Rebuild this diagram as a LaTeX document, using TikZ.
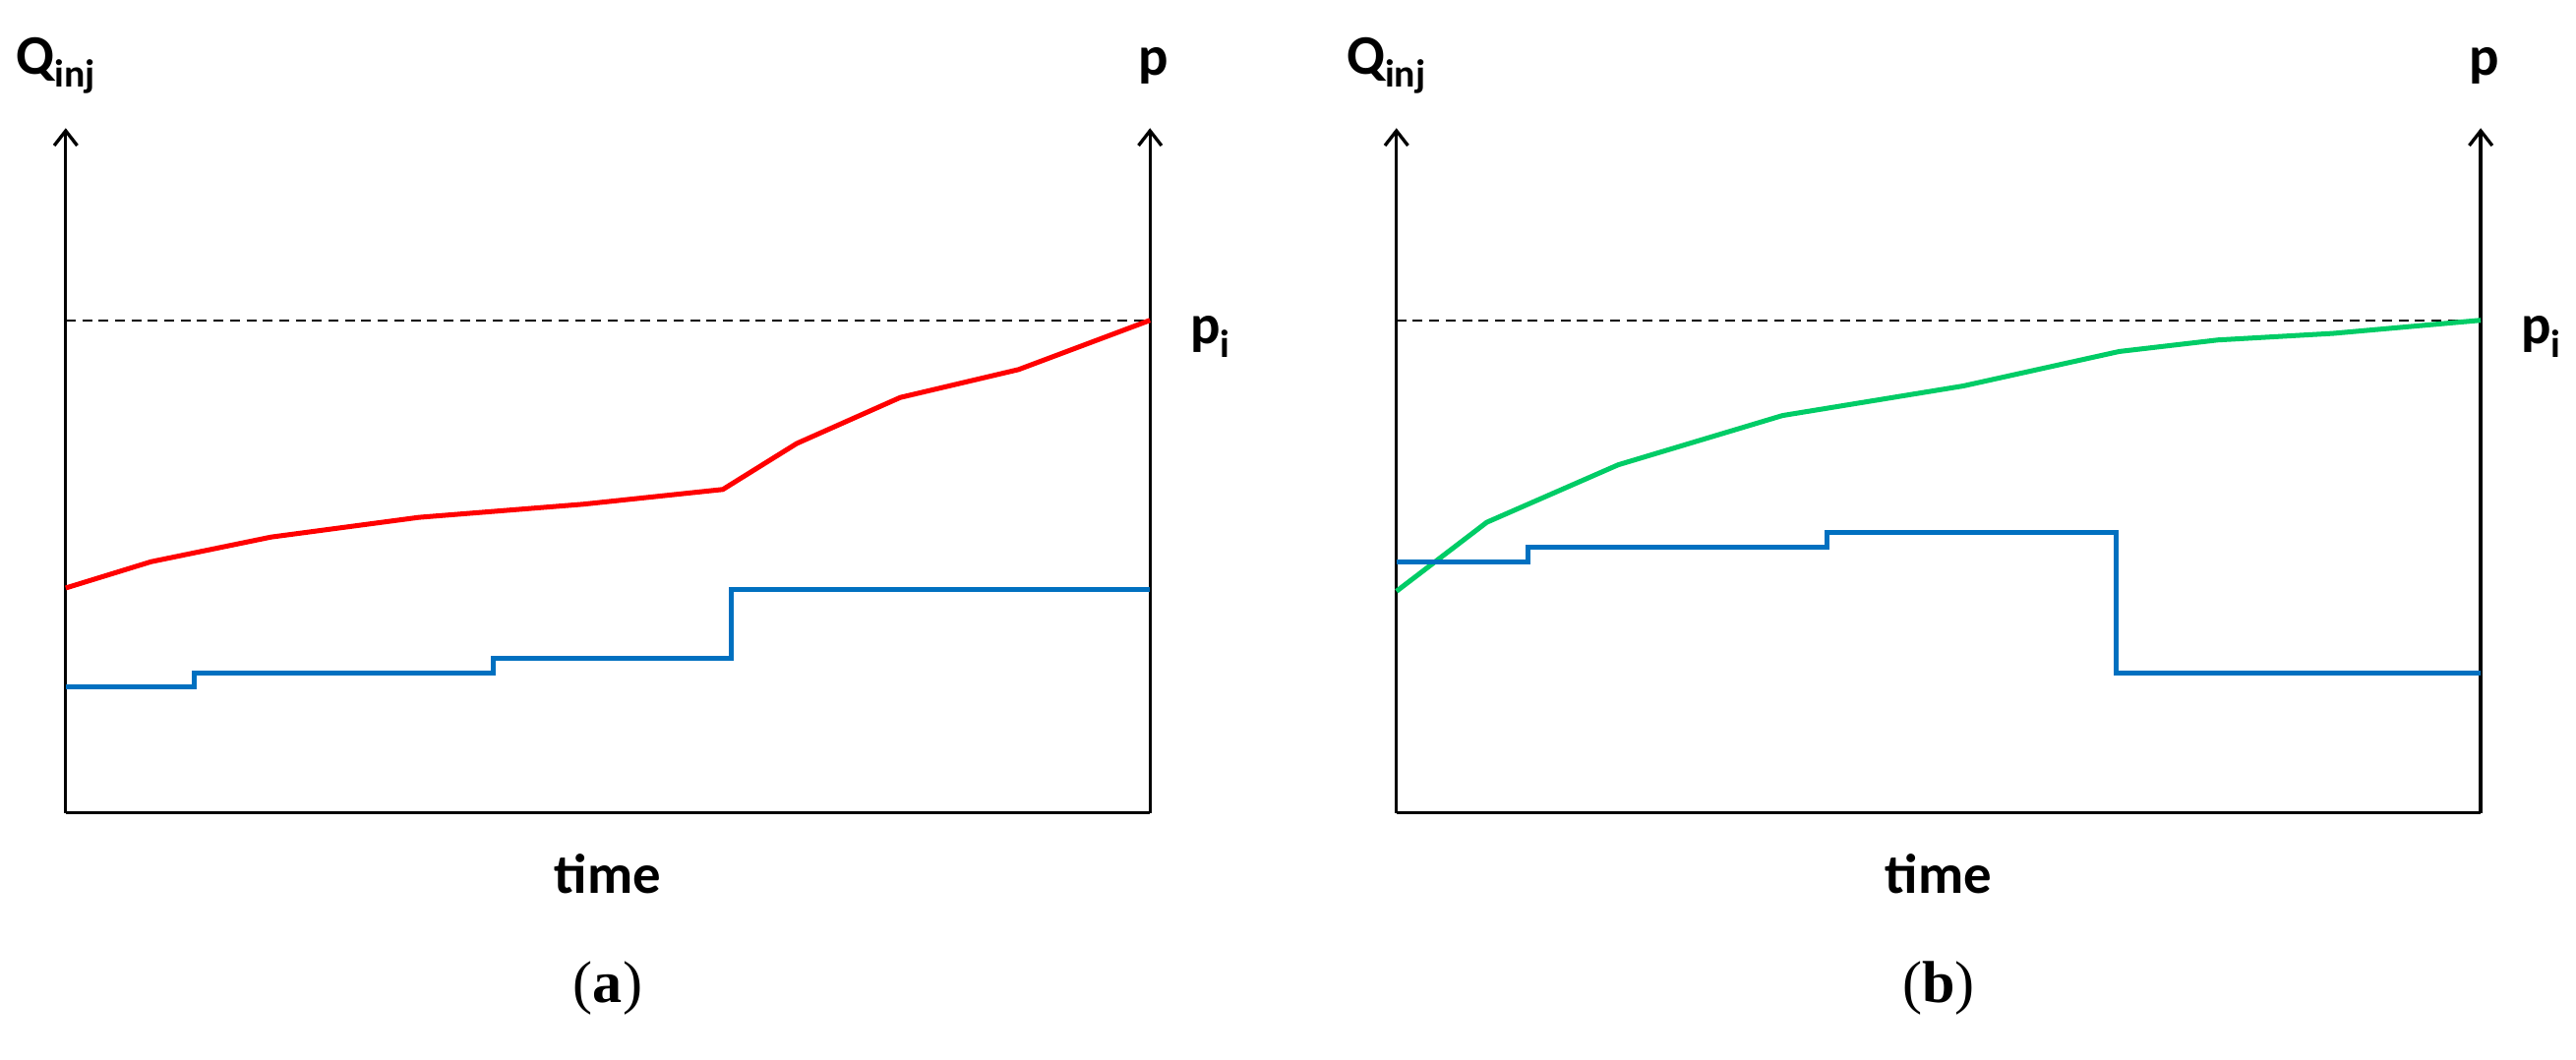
\documentclass[tikz,border=0pt]{standalone}
\usetikzlibrary{arrows.meta}
\usepackage{fontspec}
\setmainfont{Carlito}
\newfontfamily\serif{Liberation Serif}
\begin{document}
\begin{tikzpicture}[x=1pt,y=-1pt,
 ax/.style={line width=2pt,-{Straight Barb[length=9pt,width=14pt]}},
 lbl/.style={font=\fontsize{34}{40}\selectfont\bfseries},
 captxt/.style={font=\fontsize{36}{42}\selectfont\serif},
 blu/.style={line width=3pt,color={rgb,255:red,0;green,112;blue,192}}]
\useasboundingbox (0,0) rectangle (1568,645);
\foreach \o/\c/\k in {0/a/A,810/b/B}{
 \begin{scope}[xshift=\o pt]
 \coordinate (bl\k) at (40,495); \coordinate (br\k) at (700,495);
 \coordinate (tl\k) at (40,78); \coordinate (tr\k) at (700,78);
 \draw[ax] (bl\k) -- (tl\k);
 \draw[ax] (br\k) -- (tr\k);
 \draw[line width=2pt] (bl\k) -- (br\k);
 \draw[line width=1.2pt,dash pattern=on 6pt off 4pt] (40,195) -- (700,195);
 \node[lbl] (q\k) at (34,40) {Q\textsubscript{inj}};
 \node[lbl] (p\k) at (702,40) {p};
 \node[lbl] (pi\k) at (737,205) {p\textsubscript{i}};
 \node[lbl] (t\k) at (370,532) {time};
 \node[captxt] (c\k) at (370,602) {(\textbf{\c})};
 \end{scope}}
\draw[line width=3pt,red,line join=round] (40,358)--(92,342)--(165,327)--(255,315)--(355,307)--(440,298)--(485,270)--(548,242)--(620,225)--(700,195);
\draw[blu] (40,418)-|(118,410)-|(300,401)-|(445,359)--(700,359);
\draw[line width=3pt,color={rgb,255:red,0;green,204;blue,102},line join=round] (850,360)--(905,318)--(985,283)--(1085,253)--(1195,235)--(1290,214)--(1350,207)--(1420,203)--(1510,195);
\draw[blu] (850,342)-|(930,333)-|(1112,324)-|(1288,410)--(1510,410);
\end{tikzpicture}
\end{document}
